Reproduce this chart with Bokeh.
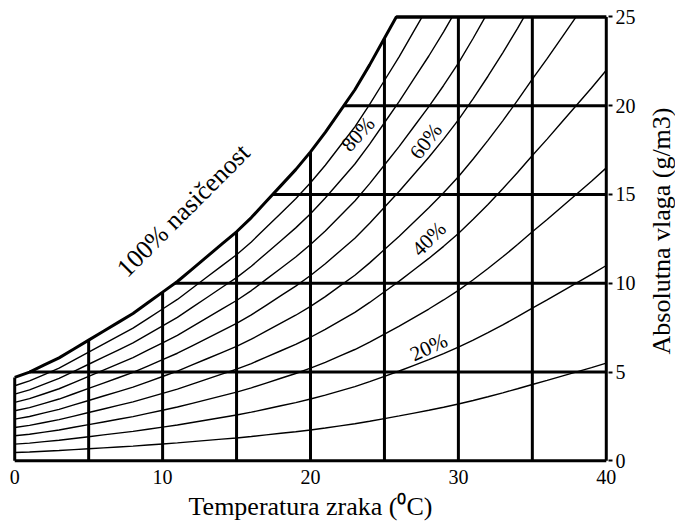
import numpy as np
from bokeh.plotting import figure
from bokeh.layouts import row
from bokeh.models import FixedTicker, Label
from bokeh.core.properties import value
from bokeh.embed import file_html
from bokeh.resources import INLINE

# ---- data ----
temp_c = list(range(0, 41))
sat_gm3 = [4.7, 5.0, 5.4, 5.8, 6.3, 6.8, 7.3, 7.8, 8.3, 8.9,
           9.5, 10.1, 10.8, 11.5, 12.2, 12.9, 13.7, 14.6, 15.5, 16.4,
           17.4, 18.5, 19.7, 20.9, 22.3, 23.8, 25.3, 26.9, 28.5, 30.2,
           32.0, 34.0, 36.1, 38.3, 40.6, 43.0, 45.3, 47.7, 50.1, 52.5,
           55.0]
rh_levels = [10, 20, 30, 40, 50, 60, 70, 80, 90]
temp_grid = [0, 5, 10, 15, 20, 25, 30, 35, 40]
vlaga_grid = [5, 10, 15, 20, 25]
y_ticks = [0, 5, 10, 15, 20, 25]
x_ticks = [0, 10, 20, 30, 40]
labels = ["100% nasičenost", "80%", "60%", "40%", "20%"]
label_x = [11.4, 23.2, 27.8, 28.0, 28.0]
label_y = [14.1, 18.4, 18.0, 12.5, 6.4]
label_ang = [45, 48, 53, 45, 25]
label_size = ["26px", "21px", "21px", "21px", "21px"]
y_title = "Absolutna vlaga (g/m3)"
x_title = "Temperatura zraka (⁰C)"

YMAX = 25
XMAX = 40
tx = np.array(temp_c, dtype=float)
sy = np.array(sat_gm3, dtype=float)


def sat_at(x):
    return float(np.interp(x, tx, sy))


def x_at(y, curve):
    return float(np.interp(y, curve, tx))


SERIF = "Liberation Serif"

p = figure(frame_width=596, frame_height=451, x_range=(-0.15, 40.15), y_range=(-0.15, 25.25),
           output_backend="svg", toolbar_location=None,
           y_axis_location="right",
           min_border_left=12, min_border_top=12, min_border_bottom=0, min_border_right=36)
p.xgrid.visible = False
p.ygrid.visible = False
p.outline_line_color = None

# relative humidity curves (thin)
for rh in rh_levels:
    cy = sy * rh / 100.0
    mask = cy <= YMAX
    xs = list(tx[mask])
    ys = list(cy[mask])
    if not mask.all():
        xc = x_at(YMAX, cy)
        xs.append(xc)
        ys.append(YMAX)
    p.line(xs, ys, line_color="black", line_width=1.4)

# saturation curve (thick)
x25 = x_at(YMAX, sy)
m = sy <= YMAX
sx = list(tx[m]) + [x25, XMAX]
syy = list(sy[m]) + [YMAX, YMAX]
p.line(sx, syy, line_color="black", line_width=3)

# vertical grid lines bounded by saturation
vx, vy = [], []
for t in temp_grid:
    vx.append([t, t])
    vy.append([0, min(sat_at(t), YMAX)])
p.multi_line(vx, vy, line_color="black", line_width=3)

# horizontal grid lines from saturation curve to 40
hx, hy = [], []
for h in vlaga_grid:
    hx.append([max(x_at(h, sy), 0), XMAX])
    hy.append([h, h])
hx.append([0, XMAX])
hy.append([0, 0])
p.multi_line(hx, hy, line_color="black", line_width=3)

# labels on curves
for txt, lx, ly, la, fs in zip(labels, label_x, label_y, label_ang, label_size):
    p.add_layout(Label(x=lx, y=ly, text=txt, angle=la, angle_units="deg",
                       text_align="center", text_baseline="middle",
                       text_font=SERIF, text_font_size=fs, text_color="black"))

# axes
p.xaxis.ticker = FixedTicker(ticks=x_ticks)
p.xaxis.axis_line_color = None
p.xaxis.major_tick_line_color = None
p.xaxis.major_tick_in = 0
p.xaxis.major_tick_out = 0
p.xaxis.minor_tick_line_color = None
p.xaxis.minor_tick_in = 0
p.xaxis.minor_tick_out = 0
p.xaxis.major_label_text_font = SERIF
p.xaxis.major_label_text_font_size = "20px"
p.xaxis.major_label_text_color = "black"
p.xaxis.major_label_standoff = 6
p.xaxis.axis_label = x_title
p.xaxis.axis_label_text_font = SERIF
p.xaxis.axis_label_text_font_size = "26px"
p.xaxis.axis_label_text_font_style = "normal"
p.xaxis.axis_label_text_color = "black"
p.xaxis.axis_label_standoff = 5

p.yaxis.ticker = FixedTicker(ticks=y_ticks)
p.yaxis.axis_line_color = None
p.yaxis.major_tick_line_color = "black"
p.yaxis.major_tick_line_width = 2
p.yaxis.major_tick_in = 0
p.yaxis.major_tick_out = 4
p.yaxis.minor_tick_line_color = None
p.yaxis.minor_tick_in = 0
p.yaxis.minor_tick_out = 0
p.yaxis.major_label_text_font = SERIF
p.yaxis.major_label_text_font_size = "20px"
p.yaxis.major_label_text_color = "black"
p.yaxis.major_label_standoff = 3

# narrow side panel holding the right-hand axis title (reads upwards)
side = figure(width=31, height=470, x_range=(0, 31), y_range=(0, 470),
              output_backend="svg", toolbar_location=None,
              x_axis_location=None, y_axis_location=None,
              min_border_left=0, min_border_right=0, min_border_top=0, min_border_bottom=0)
side.xgrid.visible = False
side.ygrid.visible = False
side.outline_line_color = None
side.text(x=[17], y=[212], text=[y_title], angle=90, angle_units="deg",
          text_align="center", text_baseline="middle",
          text_font=value(SERIF), text_font_size="26px", text_color="black")

layout = row(p, side, spacing=0)
open("out.html", "w").write(file_html(layout, INLINE))
